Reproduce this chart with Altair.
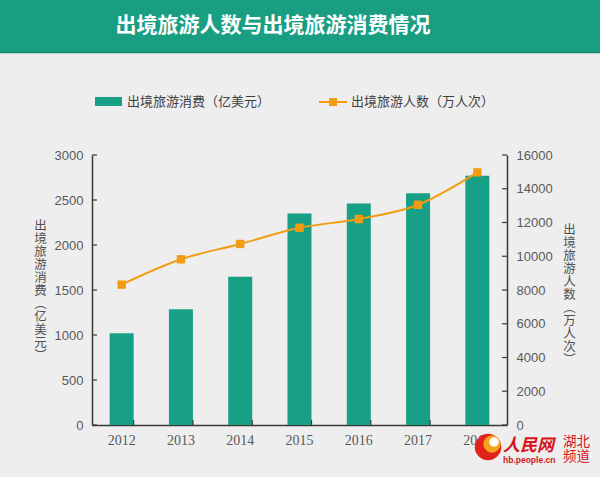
import altair as alt
import pandas as pd

years = ['2012', '2013', '2014', '2015', '2016', '2017', '2018']
spend = [1020, 1287, 1648, 2350, 2460, 2575, 2770]
trips = [8318, 9819, 10728, 11689, 12203, 13051, 14972]
left_ticks = [0, 500, 1000, 1500, 2000, 2500, 3000]
right_ticks = [0, 2000, 4000, 6000, 8000, 10000, 12000, 14000, 16000]

chart_title = '出境旅游人数与出境旅游消费情况'
bar_name = '出境旅游消费（亿美元）'
line_name = '出境旅游人数（万人次）'
left_title = list('出境旅游消费︵亿美元︶')
right_title = list('出境旅游人数︵万人次︶')

BAR = '#17a085'
ORANGE = '#f39c12'
AXIS = '#3a3a3a'
LABEL = '#595959'
CJK = 'Noto Sans CJK SC'

W, H = 415, 270

df = pd.DataFrame({'year': years, 'spend': spend, 'trips': trips})
one = pd.DataFrame({'d': [0]})

xscale = alt.Scale(paddingInner=0.595, paddingOuter=0.2975)
xaxis = alt.Axis(title=None, labelAngle=0, labelFont='Liberation Serif',
                 labelFontSize=14, labelColor=LABEL, labelPadding=8,
                 ticks=False, domainColor=AXIS, domainWidth=1.5)

lscale = alt.Scale(domain=[0, 3000], nice=False)
rscale = alt.Scale(domain=[0, 16000], nice=False)

laxis = alt.Axis(orient='left', values=left_ticks, format='d', grid=False, ticks=False,
                 labelPadding=9, labelFont='Liberation Sans', labelFontSize=13,
                 labelColor=LABEL, domainColor=AXIS, domainWidth=1.5,
                 title=left_title, titleAngle=0, titleX=-52, titleY=70,
                 titleAlign='center', titleBaseline='middle', titleFont=CJK,
                 titleFontSize=12.5, titleFontWeight='normal', titleLineHeight=13,
                 titleColor='#505050')
raxis = alt.Axis(orient='right', values=right_ticks, format='d', grid=False, ticks=False,
                 labelPadding=9, labelFont='Liberation Sans', labelFontSize=13,
                 labelColor=LABEL, domainColor=AXIS, domainWidth=1.5,
                 title=right_title, titleAngle=0, titleX=62, titleY=74,
                 titleAlign='center', titleBaseline='middle', titleFont=CJK,
                 titleFontSize=12.5, titleFontWeight='normal', titleLineHeight=13,
                 titleColor='#505050')

bars = alt.Chart(df).mark_bar(color=BAR).encode(
    x=alt.X('year:O', scale=xscale, axis=xaxis),
    y=alt.Y('spend:Q', scale=lscale, axis=laxis)
)
lt = alt.Chart(pd.DataFrame({'spend': left_ticks})).mark_rule(color=AXIS, strokeWidth=1.2).encode(
    y=alt.Y('spend:Q', scale=lscale, axis=laxis),
    x=alt.value(0), x2=alt.value(5)
)
xt = alt.Chart(pd.DataFrame({'year': years[:-1]})).mark_rule(color=AXIS, strokeWidth=1.2).encode(
    x=alt.X('year:O', scale=xscale, axis=xaxis, bandPosition=1),
    y=alt.value(H - 5), y2=alt.value(H)
)
left = alt.layer(bars, lt, xt)

line = alt.Chart(df).mark_line(color=ORANGE, strokeWidth=2, interpolate='monotone').encode(
    x=alt.X('year:O', scale=xscale, axis=xaxis),
    y=alt.Y('trips:Q', scale=rscale, axis=raxis)
)
pts = alt.Chart(df).mark_square(size=70, color=ORANGE, opacity=1, filled=True).encode(
    x=alt.X('year:O', scale=xscale, axis=xaxis),
    y=alt.Y('trips:Q', scale=rscale, axis=raxis)
)
rt = alt.Chart(pd.DataFrame({'trips': right_ticks})).mark_rule(color=AXIS, strokeWidth=1.2).encode(
    y=alt.Y('trips:Q', scale=rscale, axis=raxis),
    x=alt.value(W - 5), x2=alt.value(W)
)
right = alt.layer(line, pts, rt)

base = alt.Chart(one)
band = base.mark_rect(color='#199e82').encode(
    x=alt.value(-92), x2=alt.value(508), y=alt.value(-155), y2=alt.value(-102))
band_edge = base.mark_rule(color='#128a70', strokeWidth=1.5).encode(
    x=alt.value(-92), x2=alt.value(508), y=alt.value(-102.5))
title_txt = base.mark_text(font=CJK, fontSize=21, fontWeight='bold', color='white',
                           align='center', baseline='middle').encode(
    x=alt.value(181), y=alt.value(-129), text=alt.value(chart_title))

leg_rect = base.mark_rect(color=BAR).encode(
    x=alt.value(3), x2=alt.value(30), y=alt.value(-58), y2=alt.value(-49))
leg_t1 = base.mark_text(font=CJK, fontSize=13, color='#404040', align='left',
                        baseline='middle').encode(
    x=alt.value(35), y=alt.value(-53), text=alt.value(bar_name))
leg_line = base.mark_rule(color=ORANGE, strokeWidth=2).encode(
    x=alt.value(227), x2=alt.value(255), y=alt.value(-53))
leg_sq = base.mark_square(color=ORANGE, size=64, opacity=1).encode(
    x=alt.value(241), y=alt.value(-53))
leg_t2 = base.mark_text(font=CJK, fontSize=13, color='#404040', align='left',
                        baseline='middle').encode(
    x=alt.value(259), y=alt.value(-53), text=alt.value(line_name))

logo_c1 = base.mark_circle(color='#e2231a', size=700, opacity=1).encode(
    x=alt.value(396), y=alt.value(292))
logo_c2 = base.mark_circle(color='#f7a21b', size=300, opacity=1).encode(
    x=alt.value(400), y=alt.value(289))
logo_c3 = base.mark_circle(color='#ffffff', size=90, opacity=1).encode(
    x=alt.value(402), y=alt.value(287))
logo_t1 = base.mark_text(font=CJK, fontSize=17, fontWeight='bold', fontStyle='italic',
                         color='#d7141a', align='left', baseline='middle').encode(
    x=alt.value(411), y=alt.value(291), text=alt.value('人民网'))
logo_t2 = base.mark_text(font='Liberation Sans', fontSize=8.5, fontWeight='bold',
                         color='#d7141a', align='left', baseline='middle').encode(
    x=alt.value(411), y=alt.value(305), text=alt.value('hb.people.cn'))
logo_t3 = base.mark_text(font=CJK, fontSize=13.5, color='#d7141a',
                         align='left', baseline='middle').encode(
    x=alt.value(471), y=alt.value(287), text=alt.value('湖北'))
logo_t4 = base.mark_text(font=CJK, fontSize=13.5, color='#d7141a',
                         align='left', baseline='middle').encode(
    x=alt.value(471), y=alt.value(302), text=alt.value('频道'))

chart = alt.layer(
    band, band_edge, title_txt, leg_rect, leg_t1, leg_line, leg_sq, leg_t2,
    left, right,
    logo_c1, logo_c2, logo_c3, logo_t1, logo_t2, logo_t3, logo_t4
).resolve_scale(y='independent').properties(
    width=W, height=H,
    autosize=alt.AutoSizeParams(type='none'),
    padding={'left': 92, 'top': 155, 'right': 93, 'bottom': 52},
    background='#eeeeee'
).configure_view(stroke=None)

chart.save('out.html', embed_options={'renderer': 'svg', 'actions': False})
